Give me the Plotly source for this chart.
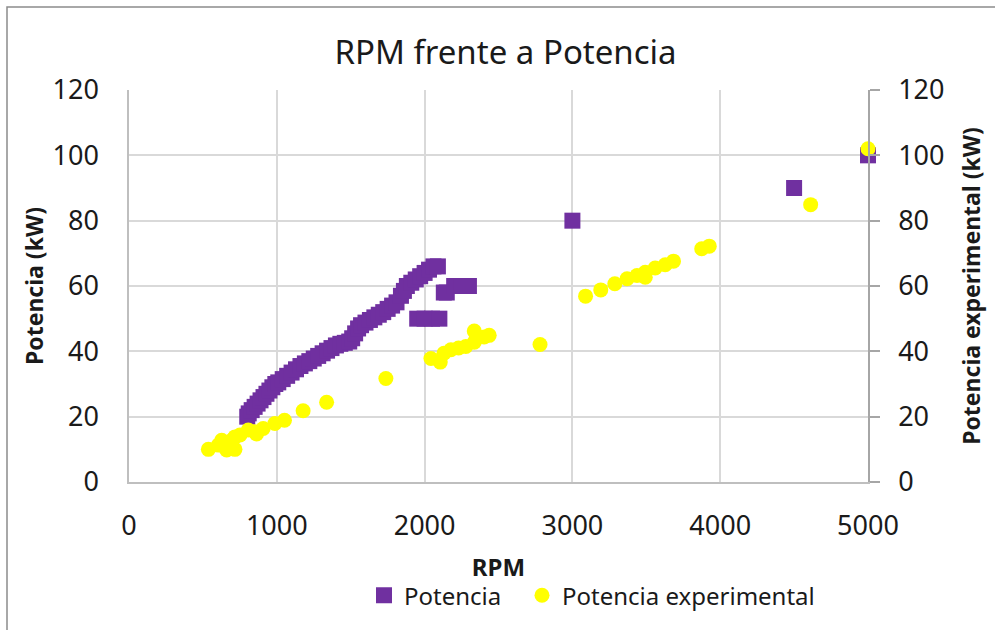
import plotly.graph_objects as go

# ---- data ----
rpm_pot = [800, 810, 830, 850, 870, 890, 910, 930, 950, 970, 990, 1010, 1040, 1070, 1100,
           1130, 1160, 1190, 1220, 1250, 1280, 1310, 1340, 1370, 1400, 1430, 1460, 1490,
           1510, 1530, 1550, 1570, 1600, 1630, 1660, 1690, 1720, 1750, 1780, 1810, 1840,
           1860, 1880, 1910, 1940, 1970, 2000, 2030, 2060, 2090,
           1950, 2000, 2050, 2100, 2130, 2150, 2200, 2250, 2300, 3000, 4500, 5000]
p_pot = [20, 21, 22, 23, 24, 25, 26, 27, 28, 29, 30, 30.5, 31.5, 32.5, 33.5,
         34.5, 35.5, 36.3, 37, 37.8, 38.6, 39.4, 40.2, 41, 41.8, 42.3, 42.6, 43,
         44, 45.5, 47, 48, 48.8, 49.6, 50.4, 51.2, 52, 53, 54, 55, 57,
         58.5, 60, 61, 62, 63, 64, 65, 66, 66,
         50, 50, 50, 50, 58, 58, 60, 60, 60, 80, 90, 100]

rpm_exp = [537, 605, 627, 661, 695, 717, 717, 751, 807, 852, 863, 908, 987, 1052, 1178,
           1337, 1738, 2043, 2106, 2131, 2178, 2230, 2279, 2336, 2336, 2403, 2437, 2781,
           3089, 3192, 3287, 3370, 3437, 3493, 3493, 3560, 3628, 3684, 3875, 3926, 4612, 5000]
p_exp = [10.0, 11.3, 12.8, 9.8, 12.8, 10.0, 13.8, 14.4, 15.9, 15.4, 14.7, 16.4, 17.9, 18.9, 21.8,
         24.4, 31.7, 37.8, 36.7, 39.4, 40.5, 41.0, 41.5, 46.2, 42.8, 44.4, 44.9, 42.1,
         56.9, 58.8, 60.7, 62.2, 63.2, 64.2, 62.7, 65.5, 66.5, 67.6, 71.4, 72.2, 84.9, 102]

title_text = "RPM frente a Potencia"
x_title = "RPM"
y_title = "Potencia (kW)"
y2_title = "Potencia experimental (kW)"
name_pot = "Potencia"
name_exp = "Potencia experimental"

FONT = "Noto Sans"
TXT = "#1a1a1a"

fig = go.Figure()
fig.add_trace(go.Scatter(
    x=rpm_pot, y=p_pot, mode="markers", name=name_pot, showlegend=True,
    marker=dict(symbol="square", size=16, color="#7030A0", line=dict(width=0)),
    cliponaxis=False, yaxis="y", legend="legend"))
fig.add_trace(go.Scatter(
    x=rpm_exp, y=p_exp, mode="markers", name=name_exp, showlegend=True,
    marker=dict(symbol="circle", size=15, color="#FFFF00", line=dict(width=0)),
    cliponaxis=False, yaxis="y2", legend="legend2"))

legend_common = dict(orientation="h", xanchor="left", y=-0.29, yanchor="middle",
                     font=dict(size=24, color=TXT), bgcolor="rgba(0,0,0,0)", itemwidth=30)

fig.update_layout(
    width=995, height=630,
    showlegend=True,
    margin=dict(l=129, r=127, t=90, b=148),
    paper_bgcolor="white", plot_bgcolor="white",
    font=dict(family=FONT, color=TXT),
    title=dict(text=title_text, x=0.5095, xanchor="center", y=0.917, yanchor="middle",
               xref="paper", font=dict(size=33, color=TXT, family=FONT)),
    xaxis=dict(range=[0, 5000], tickvals=[0, 1000, 2000, 3000, 4000, 5000],
               showgrid=True, gridcolor="#d9d9d9", gridwidth=1.5,
               zeroline=False, showline=True, linecolor="#bfbfbf", linewidth=1.5,
               ticks="", tickfont=dict(size=27, color=TXT), ticklabelstandoff=19,
               title=dict(text="<b>" + x_title + "</b>", font=dict(size=24, color=TXT), standoff=17)),
    yaxis=dict(range=[0, 120], tickvals=[0, 20, 40, 60, 80, 100, 120],
               showgrid=True, gridcolor="#d9d9d9", gridwidth=1.5,
               zeroline=False, showline=True, linecolor="#bfbfbf", linewidth=1.5,
               ticks="", tickfont=dict(size=27, color=TXT), ticklabelstandoff=23,
               title=dict(text="<b>" + y_title + "</b>", font=dict(size=23, color=TXT), standoff=2)),
    yaxis2=dict(range=[0, 120], tickvals=[0, 20, 40, 60, 80, 100, 120],
                overlaying="y", side="right", showgrid=False, zeroline=False,
                showline=True, linecolor="#a6a6a6", linewidth=1.5,
                ticks="outside", ticklen=10, tickcolor="#a6a6a6", tickwidth=1.5,
                tickfont=dict(size=27, color=TXT), ticklabelstandoff=13,
                title=dict(text="<b>" + y2_title + "</b>", font=dict(size=23, color=TXT), standoff=20)),
    legend=dict(x=0.318, visible=True, **legend_common),
    legend2=dict(x=0.5318, visible=True, **legend_common),
    shapes=[dict(type="rect", xref="paper", yref="paper",
                 x0=(7 - 129) / 739, x1=(1000 - 129) / 739,
                 y0=(482 - 640) / 392, y1=(482 - 7) / 392,
                 line=dict(color="#8c8c8c", width=1.5), fillcolor="rgba(0,0,0,0)", layer="below")],
)

fig.write_html("out.html")
